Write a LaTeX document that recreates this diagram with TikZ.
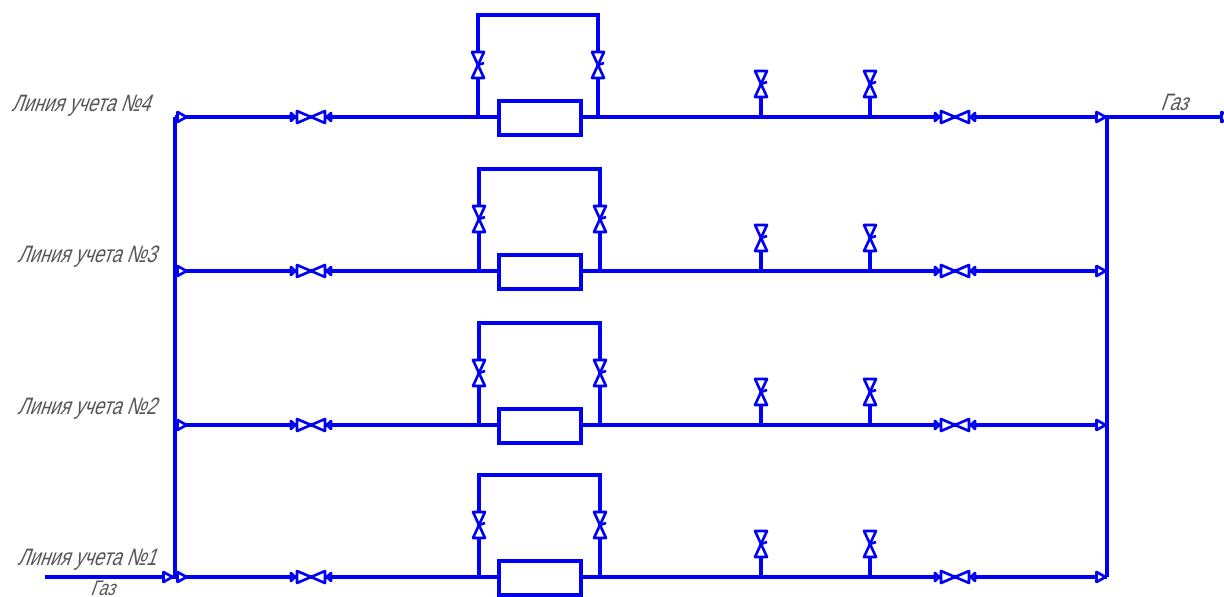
\documentclass[tikz,border=0pt]{standalone}
\usepackage{fontspec}
\newfontfamily\gostfont[FakeSlant=0.35,FakeStretch=0.77]{Liberation Sans}
\definecolor{pipeblue}{RGB}{0,0,245}
\definecolor{textgray}{RGB}{85,85,85}
\tikzset{
  pipe/.style={draw=pipeblue,line width=1.85pt},
  thinpipe/.style={draw=pipeblue,line width=1.5pt,fill=white,line join=round},
  meter/.style={pipe,rectangle,fill=white,minimum width=82*0.02cm,minimum height=34*0.02cm,inner sep=0pt,outer sep=0pt},
  caption/.style={font=\gostfont\fontsize{13.5}{13.5}\selectfont,text=textgray,inner sep=0pt},
  inlinevalve/.pic={
    \path[thinpipe] (-14,-6) -- (0,0) -- (-14,6) -- cycle;
    \path[thinpipe] (14,-6) -- (0,0) -- (14,6) -- cycle;
    \path[thinpipe] (-20,-4) -- (-16,0) -- (-20,4) -- cycle;
    \path[thinpipe] (20,-4) -- (16,0) -- (20,4) -- cycle;
  },
  stemvalve/.pic={
    \path[thinpipe] (-6,-13) -- (0,0) -- (6,-13) -- cycle;
    \path[thinpipe] (-6,13) -- (0,0) -- (6,13) -- cycle;
    \draw[pipeblue,line width=1.5pt] (0,0) -- (6,-2);
  },
  endmark/.pic={
    \path[thinpipe] (-4.5,-5) -- (4.5,0) -- (-4.5,5) -- cycle;
  }
}
\begin{document}
\begin{tikzpicture}[x=0.02cm,y=-0.02cm]
    \useasboundingbox (0,0) rectangle (1224,597);
    \pgfmathsetmacro{\busleft}{175}
    \pgfmathsetmacro{\busright}{1107}
    \coordinate (lefttop) at (\busleft,117);
    \coordinate (leftbot) at (\busleft,577);
    \coordinate (righttop) at (\busright,117);
    \coordinate (rightbot) at (\busright,577);
    \coordinate (inlet) at (45,577);
    \coordinate (outlet) at (1224,117);
    \draw[pipe] (lefttop) -- (leftbot);
    \draw[pipe] (righttop) -- (rightbot);
    \draw[pipe] (inlet) -- (leftbot);
    \draw[pipe] (righttop) -- (outlet);
    \foreach \k/\y/\xl/\xr/\lx/\ly in {4/117/478/598/11/106, 3/271/479/600/17/257, 2/425/479/600/17/409, 1/577/479/600/17/560} {
      \coordinate (start\k) at (\busleft,\y);
      \coordinate (end\k) at (\busright,\y);
      \coordinate (tapl\k) at (\xl,\y);
      \coordinate (tapr\k) at (\xr,\y);
      \coordinate (topl\k) at (\xl,\y-102);
      \coordinate (topr\k) at (\xr,\y-102);
      \coordinate (gaugea\k) at (761,\y);
      \coordinate (gaugeb\k) at (870,\y);
      \coordinate (vgaugea\k) at (761,\y-33);
      \coordinate (vgaugeb\k) at (870,\y-33);
      \draw[pipe] (start\k) -- (end\k);
      \draw[pipe,line join=miter] (tapl\k) -- (topl\k) -- (topr\k) -- (tapr\k);
      \draw[pipe] (gaugea\k) -- (vgaugea\k);
      \draw[pipe] (gaugeb\k) -- (vgaugeb\k);
      \node[meter] (meter\k) at (540,\y+1) {};
      \pic at (311,\y) {inlinevalve};
      \pic at (955,\y) {inlinevalve};
      \pic at (\xl,\y-52) {stemvalve};
      \pic at (\xr,\y-52) {stemvalve};
      \pic at (vgaugea\k) {stemvalve};
      \pic at (vgaugeb\k) {stemvalve};
      \pic at (182,\y) {endmark};
      \pic at (1101,\y) {endmark};
      \node[caption,anchor=west] (line\k) at (\lx,\ly) {Линия учета №\k};
    }
    \pic at (168,577) {endmark};
    \pic at (1226,117) {endmark};
    \node[caption,anchor=west] (gasout) at (1160,102) {Газ};
    \node[caption,anchor=west,font=\gostfont\fontsize{12}{12}\selectfont] (gasin) at (90,588) {Газ};
\end{tikzpicture}
\end{document}
